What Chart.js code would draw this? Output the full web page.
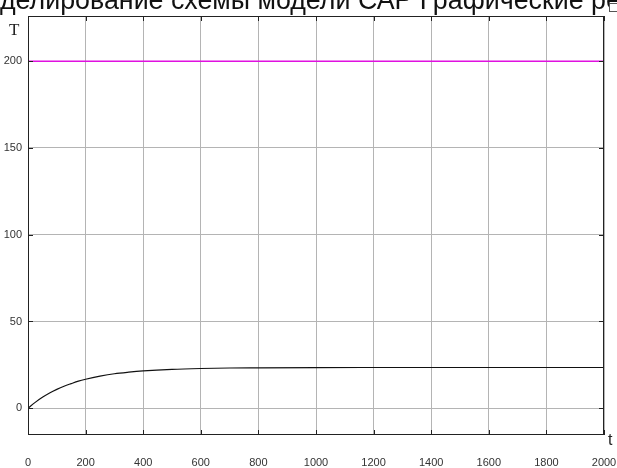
<!DOCTYPE html>
<html>
<head>
<meta charset="utf-8">
<script src="https://cdn.jsdelivr.net/npm/chart.js@4.4.0/dist/chart.umd.min.js"></script>
<style>
  html, body { margin: 0; padding: 0; background: #fff; overflow: hidden; }
  #wrap { position: relative; width: 617px; height: 468px; overflow: hidden; }
  #title {
    position: absolute; left: -37px; top: -15px; white-space: nowrap;
    font-family: "Liberation Sans", Arial, sans-serif; font-size: 26.8px; color: #111;
  }
  #ylab { position: absolute; left: 9px; top: 20px; font-family: "Liberation Serif", serif; font-size: 17px; color: #222; }
  #xlab { position: absolute; left: 608px; top: 431px; font-family: "Liberation Sans", sans-serif; font-size: 16px; color: #222; }
  #icon { position: absolute; left: 609px; top: 3px; width: 7px; height: 7px; border: 1px solid #555; background: #fff; }
  canvas { position: absolute; left: 0; top: 0; }
</style>
</head>
<body>
<div id="wrap">
  <canvas id="c" width="617" height="468"></canvas>
  <div id="title">Моделирование схемы модели САР Графические результаты</div>
  <div id="ylab">T</div>
  <div id="xlab">t</div>
  <div id="icon"></div>
</div>
<script>
// Время моделирования и выходная величина
const tPoints = [0, 25, 50, 75, 100, 125, 150, 175, 200, 250, 300, 350, 400, 500, 600, 700, 800, 1000, 1200, 1500, 2000];
const tempValues = [0, 3.4, 6.3, 8.8, 10.9, 12.7, 14.2, 15.6, 16.7, 18.5, 19.9, 20.8, 21.5, 22.4, 22.9, 23.2, 23.3, 23.45, 23.5, 23.5, 23.5];
// Задание
const setTimes = [0, 2000];
const setValues = [200, 200];

const xTicks = [0, 200, 400, 600, 800, 1000, 1200, 1400, 1600, 1800, 2000];
const yTicks = [0, 50, 100, 150, 200];

const toXY = (xs, ys) => xs.map((x, i) => ({ x: x, y: ys[i] }));

// Рамка и короткие засечки внутри области графика
const frame = {
  id: 'frame',
  afterDraw(chart) {
    const a = chart.chartArea, c = chart.ctx;
    const xs = chart.scales.x, ys = chart.scales.y;
    c.save();
    c.strokeStyle = '#222';
    c.lineWidth = 1;
    c.strokeRect(a.left + 0.5, a.top + 0.5, a.right - a.left - 1, a.bottom - a.top - 1);
    c.beginPath();
    xTicks.forEach(v => {
      const p = Math.round(xs.getPixelForValue(v)) + 0.5;
      c.moveTo(p, a.bottom); c.lineTo(p, a.bottom - 5);
      c.moveTo(p, a.top); c.lineTo(p, a.top + 5);
    });
    yTicks.forEach(v => {
      const p = Math.round(ys.getPixelForValue(v)) + 0.5;
      c.moveTo(a.left, p); c.lineTo(a.left + 5, p);
      c.moveTo(a.right, p); c.lineTo(a.right - 5, p);
    });
    c.stroke();
    c.restore();
  }
};

new Chart(document.getElementById('c').getContext('2d'), {
  type: 'line',
  data: {
    datasets: [{
      label: 'Задание',
      data: toXY(setTimes, setValues),
      borderColor: '#e010e0',
      borderWidth: 1.5,
      pointRadius: 0
    }, {
      label: 'T',
      data: toXY(tPoints, tempValues),
      borderColor: '#111',
      borderWidth: 1.2,
      pointRadius: 0,
      cubicInterpolationMode: 'monotone'
    }]
  },
  options: {
    responsive: false,
    animation: false,
    layout: { padding: { left: 0, right: 13, top: 16, bottom: 0 } },
    plugins: { legend: { display: false }, tooltip: { enabled: false } },
    scales: {
      x: {
        type: 'linear', min: 0, max: 2000,
        afterFit(s) { s.height = 33; s.paddingLeft = 0; s.paddingRight = 0; },
        afterBuildTicks(s) { s.ticks = xTicks.map(v => ({ value: v })); },
        grid: { color: '#b4b4b4', drawTicks: false },
        border: { display: false },
        ticks: { padding: 21, maxRotation: 0, autoSkip: false, color: '#333',
                 font: { family: 'Liberation Sans', size: 11 }, callback: v => String(v) }
      },
      y: {
        min: -15.4, max: 226,
        afterFit(s) { s.width = 28; s.paddingTop = 0; s.paddingBottom = 0; },
        afterBuildTicks(s) { s.ticks = yTicks.map(v => ({ value: v })); },
        grid: { color: '#b4b4b4', drawTicks: false },
        border: { display: false },
        ticks: { padding: 6, color: '#333', font: { family: 'Liberation Sans', size: 11 }, callback: v => String(v) }
      }
    }
  },
  plugins: [frame]
});
</script>
</body>
</html>
